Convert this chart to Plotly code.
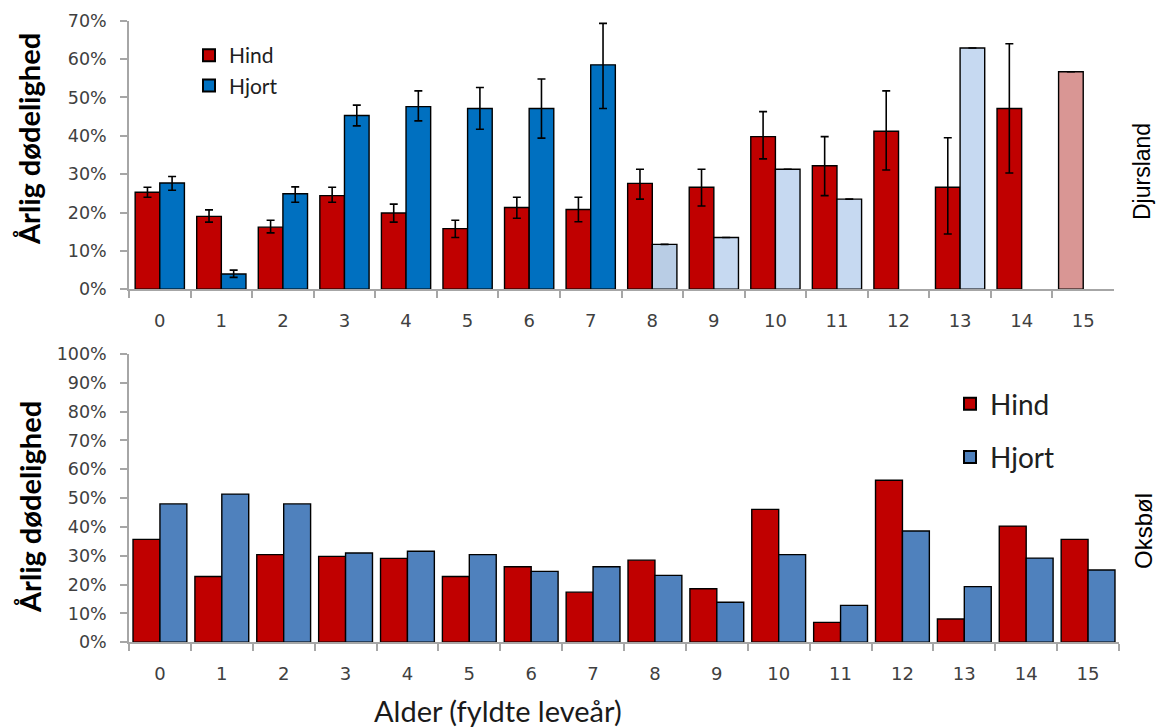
import plotly.graph_objects as go

ages = [str(a) for a in range(16)]

# Djursland (top panel), values in %
dj_hind = [25.3, 19.0, 16.2, 24.4, 19.9, 15.8, 21.3, 20.8, 27.6, 26.6, 39.8, 32.2, 41.2, 26.6, 47.1, 56.7]
dj_hind_hi = [26.6, 20.7, 18.0, 26.6, 22.2, 18.0, 24.0, 24.0, 31.3, 31.3, 46.3, 39.8, 51.7, 39.5, 64.0, None]
dj_hind_lo = [24.0, 17.5, 14.7, 22.7, 17.5, 13.5, 18.5, 17.6, 23.5, 21.7, 34.0, 24.4, 31.1, 14.4, 30.3, None]
dj_hjort = [27.7, 4.0, 24.9, 45.3, 47.6, 47.1, 47.1, 58.5, 11.7, 13.5, 31.3, 23.5, None, 62.9, None, None]
dj_hjort_hi = [29.4, 5.0, 26.7, 48.0, 51.7, 52.6, 54.8, 69.3, None, None, None, None, None, None, None, None]
dj_hjort_lo = [25.8, 3.1, 22.7, 42.6, 43.9, 41.7, 39.4, 47.1, None, None, None, None, None, None, None, None]

# Oksbøl (bottom panel), values in %
ok_hind = [35.7, 22.8, 30.4, 29.8, 29.1, 22.8, 26.2, 17.4, 28.5, 18.6, 46.1, 6.9, 56.2, 8.1, 40.3, 35.7]
ok_hjort = [48.0, 51.4, 48.0, 31.0, 31.6, 30.4, 24.6, 26.2, 23.2, 13.9, 30.4, 12.8, 38.6, 19.3, 29.2, 25.1]

top_ticks = [0, 10, 20, 30, 40, 50, 60, 70]
top_ticktext = ["0%", "10%", "20%", "30%", "40%", "50%", "60%", "70%"]
bot_ticks = [0, 10, 20, 30, 40, 50, 60, 70, 80, 90, 100]
bot_ticktext = ["0%", "10%", "20%", "30%", "40%", "50%", "60%", "70%", "80%", "90%", "100%"]

RED = "#C00000"
PINK = "#D99694"
BLUE = "#0070C0"
LIGHT8 = "#B9CDE5"
LIGHT = "#C6D9F1"
OBLUE = "#4F81BD"

hind_colors = [RED] * 15 + [PINK]
hjort_colors = [BLUE] * 8 + [LIGHT8] + [LIGHT] * 7


def err(vals, hi, lo):
    plus = [(h - v) if (h is not None and v is not None) else None for v, h in zip(vals, hi)]
    minus = [(v - l) if (l is not None and v is not None) else None for v, l in zip(vals, lo)]
    return plus, minus


hp, hm = err(dj_hind, dj_hind_hi, dj_hind_lo)
jp, jm = err(dj_hjort, dj_hjort_hi, dj_hjort_lo)

errstyle = dict(type="data", symmetric=False, color="black", thickness=1.6, width=4)
line = dict(color="black", width=1.4)

fig = go.Figure()
fig.add_trace(go.Bar(x=ages, y=dj_hind, name="Hind", marker=dict(color=hind_colors, line=line),
                     error_y=dict(array=hp, arrayminus=hm, **errstyle),
                     xaxis="x", yaxis="y", legend="legend"))
fig.add_trace(go.Bar(x=ages, y=dj_hjort, name="Hjort", marker=dict(color=hjort_colors, line=line),
                     error_y=dict(array=jp, arrayminus=jm, **errstyle),
                     xaxis="x", yaxis="y", legend="legend"))
fig.add_trace(go.Bar(x=ages, y=ok_hind, name="Hind", marker=dict(color=RED, line=line),
                     width=0.435, offset=-0.435,
                     xaxis="x2", yaxis="y2", legend="legend2", legendgroup="a"))
fig.add_trace(go.Bar(x=ages, y=ok_hjort, name="Hjort", marker=dict(color=OBLUE, line=line),
                     width=0.435, offset=0,
                     xaxis="x2", yaxis="y2", legend="legend2", legendgroup="b"))

W, H = 1157, 727
axcol = "#A6A6A6"
tickfont_y = dict(family="DejaVu Sans", size=17.5, color="#404040")
tickfont_x = dict(family="DejaVu Sans", size=18, color="#404040")

xcommon = dict(type="category", tickson="boundaries", ticks="outside", ticklen=7, tickwidth=1.5,
               tickcolor=axcol, showline=True, linecolor=axcol, linewidth=1.5, showgrid=False,
               tickfont=tickfont_x, ticklabelstandoff=14, range=[-0.5, 15.5], fixedrange=True,
               automargin=False)
ycommon = dict(ticks="outside", ticklen=7, tickwidth=1.5, tickcolor=axcol, showline=True,
               linecolor=axcol, linewidth=1.5, showgrid=False, zeroline=False, tickfont=tickfont_y,
               ticklabelstandoff=10, automargin=False, fixedrange=True)

fig.update_layout(
    width=W, height=H,
    margin=dict(l=0, r=0, t=0, b=0, autoexpand=False),
    paper_bgcolor="white", plot_bgcolor="white",
    barmode="group",
    bargap=0.2, bargroupgap=0,
    xaxis=dict(domain=[129 / W, 1114 / W], anchor="y", **xcommon),
    yaxis=dict(domain=[1 - 289.3 / H, 1 - 20.7 / H], anchor="x", range=[0, 70],
               tickvals=top_ticks, ticktext=top_ticktext, **ycommon),
    xaxis2=dict(domain=[129 / W, 1119 / W], anchor="y2", **xcommon),
    yaxis2=dict(domain=[1 - 642.3 / H, 1 - 354 / H], anchor="x2", range=[0, 100],
                tickvals=bot_ticks, ticktext=bot_ticktext, **ycommon),
    legend=dict(x=189 / W, y=1 - 35 / H, xanchor="left", yanchor="top",
                font=dict(family="Lato", size=21, color="#202020"), bgcolor="rgba(0,0,0,0)",
                tracegroupgap=0, itemsizing="constant"),
    legend2=dict(x=950 / W, y=1 - 379 / H, xanchor="left", yanchor="top",
                 font=dict(family="Lato", size=28, color="#202020"), bgcolor="rgba(0,0,0,0)",
                 tracegroupgap=14, itemsizing="constant"),
    annotations=[
        dict(text="<b>Årlig dødelighed</b>", x=29 / W, y=1 - 139 / H, xref="paper", yref="paper",
             xanchor="center", yanchor="middle",
             textangle=-90, showarrow=False, font=dict(family="Lato", size=29, color="black")),
        dict(text="<b>Årlig dødelighed</b>", x=29 / W, y=1 - 507 / H, xref="paper", yref="paper",
             xanchor="center", yanchor="middle",
             textangle=-90, showarrow=False, font=dict(family="Lato", size=29, color="black")),
        dict(text="Alder (fyldte leveår)", x=498 / W, y=1 - 710 / H, xref="paper", yref="paper",
             xanchor="center", yanchor="middle",
             showarrow=False, font=dict(family="Lato", size=29, color="#1a1a1a")),
        dict(text="Djursland", x=1142 / W, y=1 - 172 / H, xref="paper", yref="paper",
             xanchor="center", yanchor="middle",
             textangle=-90, showarrow=False, font=dict(family="Liberation Sans", size=23, color="black")),
        dict(text="Oksbøl", x=1143 / W, y=1 - 531 / H, xref="paper", yref="paper",
             xanchor="center", yanchor="middle",
             textangle=-90, showarrow=False, font=dict(family="Liberation Sans", size=24, color="black")),
    ],
)

fig.write_html("out.html", config={"displayModeBar": False},
               post_script="document.body.style.margin='0px';document.body.style.overflow='hidden';")
